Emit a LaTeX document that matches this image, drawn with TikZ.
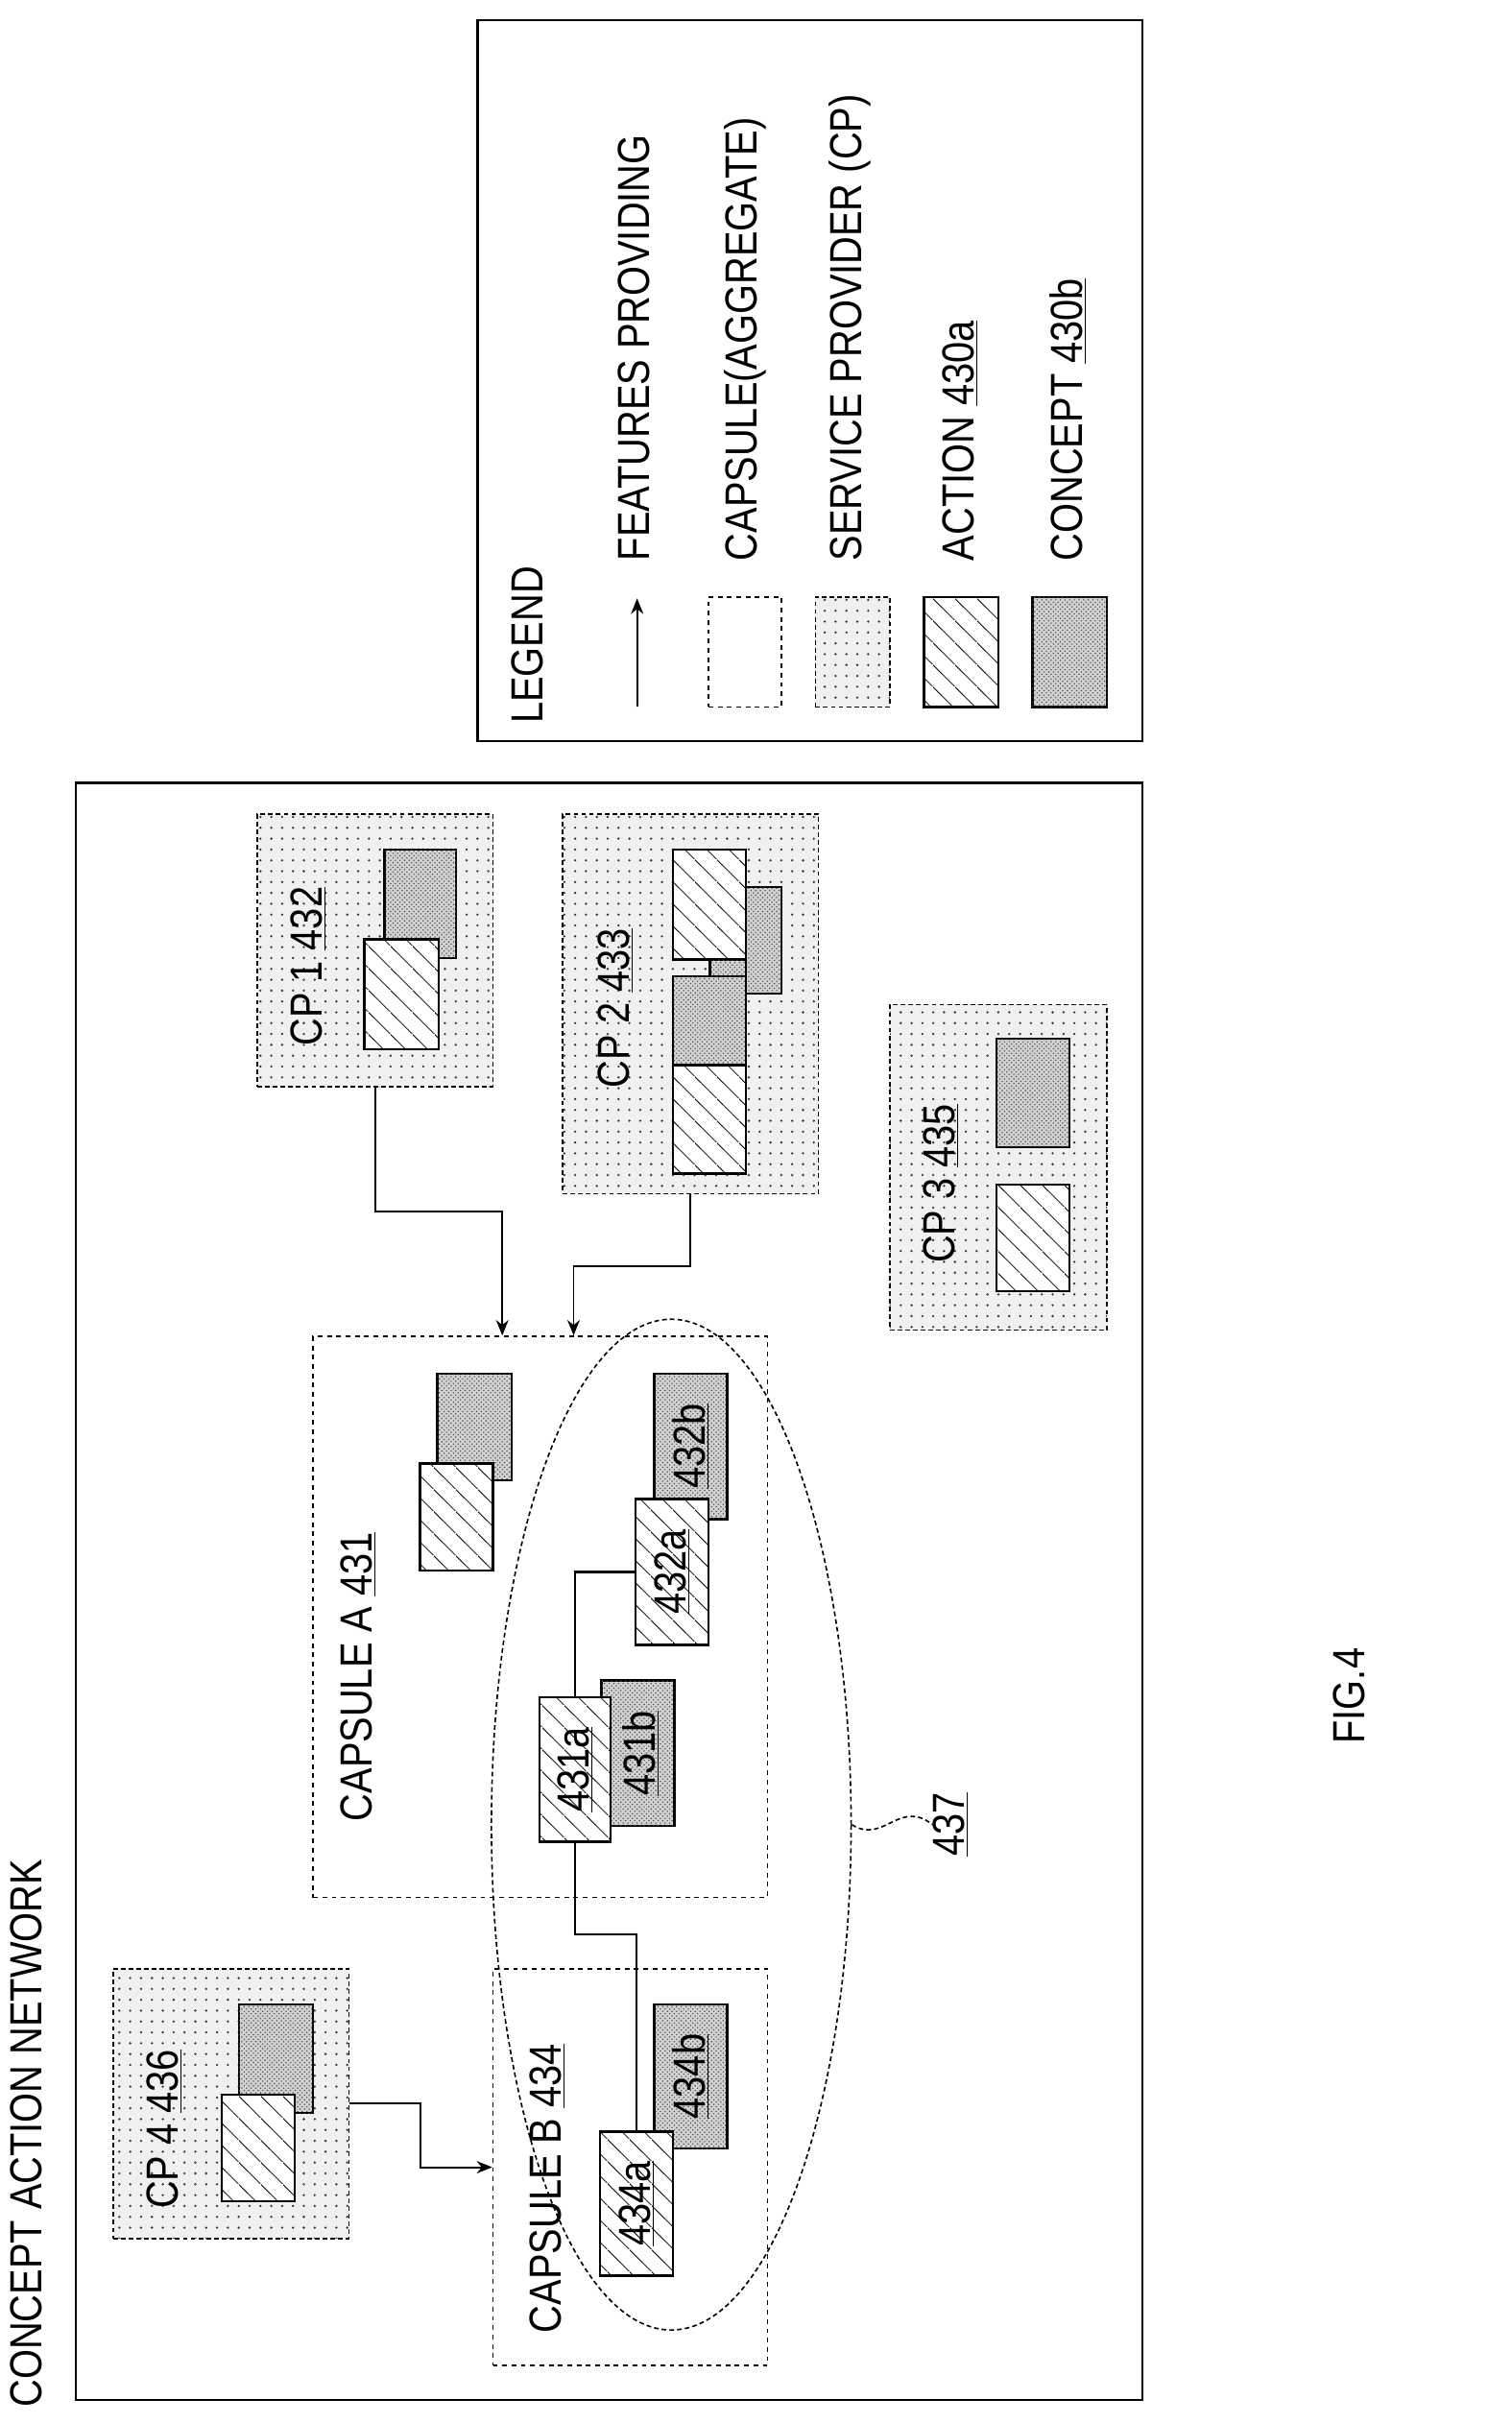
\documentclass[tikz,border=0pt]{standalone}
\usepackage{fontspec}
\setmainfont{Liberation Sans}[FakeStretch=0.85]
\usetikzlibrary{positioning,fit,arrows.meta,patterns,patterns.meta,shapes.geometric}

\tikzdeclarepattern{name=actionlines, type=uncolored,
  bounding box={(0pt,0pt) and (14pt,14pt)}, tile size={(14pt,14pt)},
  code={\draw[line width=0.5pt] (-1pt,15pt) -- (15pt,-1pt);}}
\tikzdeclarepattern{name=spdots, type=uncolored,
  bounding box={(-1pt,-1pt) and (1pt,1pt)}, tile size={(7pt,7pt)},
  code={\fill (0pt,0pt) circle (0.8pt);}}

\newcommand{\figfont}{\fontsize{29}{36}\selectfont}

\tikzset{
  sp/.style={draw, densely dashed, line width=1pt, fill=gray!12,
    postaction={pattern=spdots, pattern color=black!80}, inner sep=0pt},
  capsule/.style={draw, dashed, line width=1pt, fill=white, inner sep=0pt},
  action/.style={draw, line width=1.4pt, fill=white,
    postaction={pattern=actionlines}, inner sep=0pt},
  concept/.style={draw, line width=1.4pt, fill=gray!35,
    postaction={pattern=crosshatch dots, pattern color=black!70}, inner sep=0pt},
  lbl/.style={rotate=90, anchor=west, inner sep=0pt, font=\figfont},
  txt/.style={rotate=90, inner sep=0pt, font=\figfont},
  provide/.style={line width=1.2pt, -{Stealth[length=10pt,width=8pt]}},
  link/.style={line width=1.4pt}
}

\begin{document}
\begin{tikzpicture}[x=1pt,y=-1pt]
  \useasboundingbox (0,0) rectangle (975,1563);

  % frames
  \node[draw, line width=1.4pt, inner sep=0pt, fit={(49,505) (737,1548)}] (net) {};
  \node[lbl] (nettitle) at (17,1553) {CONCEPT ACTION NETWORK};
  \node[draw, line width=1.4pt, inner sep=0pt, fit={(308,13) (737,478)}] (legend) {};

  % legend
  \node[lbl] (legtitle) at (340,467) {LEGEND};
  \coordinate (legtail) at (411,456);
  \draw[provide] (legtail) -- ++(0,-70);
  \node[lbl] (legprov) at (409,362) {FEATURES PROVIDING};
  \node[capsule, fit={(457,385) (504,456)}] (legcap) {};
  \node[lbl] (legcaptxt) at (481,362) {CAPSULE(AGGREGATE)};
  \node[sp, fit={(526,385) (574,456)}] (legsp) {};
  \node[lbl] (legsptxt) at (548,362) {SERVICE PROVIDER (CP)};
  \node[action, fit={(596,385) (644,456)}] (legact) {};
  \node[lbl] (legacttxt) at (619,362) {ACTION \underline{430a}};
  \node[concept, fit={(666,385) (714,456)}] (legcon) {};
  \node[lbl] (legcontxt) at (689,362) {CONCEPT \underline{430b}};

  % service providers
  \node[sp, fit={(166,525) (318,701)}] (cp1) {};
  \node[concept, fit={(248,548) (294,618)}] (cp1con) {};
  \node[action, fit={(235,606) (283,677)}] (cp1act) {};
  \node[lbl] (cp1txt) at (199,675) {CP 1 \underline{432}};

  \node[sp, fit={(363,525) (528,770)}] (cp2) {};
  \node[concept, fit={(481,572) (504,641)}] (cp2con) {};
  \node[action, fit={(434,548) (481,619)}] (cp2act) {};
  \node[concept, fit={(458,619) (481,630)}] (cp2join) {};
  \node[concept, fit={(434,630) (481,687)}] (cp2conb) {};
  \node[action, fit={(434,687) (481,757)}] (cp2actb) {};
  \node[lbl] (cp2txt) at (397,702) {CP 2 \underline{433}};

  \node[sp, fit={(574,648) (714,858)}] (cp3) {};
  \node[concept, fit={(643,670) (690,740)}] (cp3con) {};
  \node[action, fit={(643,764) (690,833)}] (cp3act) {};
  \node[lbl] (cp3txt) at (607,815) {CP 3 \underline{435}};

  \node[sp, fit={(73,1270) (225,1444)}] (cp4) {};
  \node[concept, fit={(154,1293) (202,1363)}] (cp4con) {};
  \node[action, fit={(143,1351) (190,1420)}] (cp4act) {};
  \node[lbl] (cp4txt) at (106,1425) {CP 4 \underline{436}};

  % capsules
  \node[capsule, fit={(202,862) (495,1224)}] (capA) {};
  \node[lbl] (capAtxt) at (231,1175) {CAPSULE A \underline{431}};
  \node[concept, fit={(282,886) (330,955)}] (capAcon) {};
  \node[action, fit={(271,944) (318,1013)}] (capAact) {};
  \node[concept, fit={(422,886) (469,980)}] (c432) {};
  \node[action, fit={(410,967) (457,1061)}] (a432) {};
  \node[concept, fit={(388,1084) (435,1178)}] (c431) {};
  \node[action, fit={(348,1095) (394,1188)}] (a431) {};
  \node[txt] (t432b) at (c432) {\underline{432b}};
  \node[txt] (t432a) at (a432) {\underline{432a}};
  \node[txt] (t431b) at ([xshift=2pt]c431.center) {\underline{431b}};
  \node[txt] (t431a) at (a431) {\underline{431a}};

  \node[capsule, fit={(318,1270) (495,1526)}] (capB) {};
  \node[lbl] (capBtxt) at (353,1505) {CAPSULE B \underline{434}};
  \node[concept, fit={(422,1293) (469,1386)}] (c434) {};
  \node[action, fit={(387,1375) (434,1468)}] (a434) {};
  \node[txt] (t434b) at (c434) {\underline{434b}};
  \node[txt] (t434a) at (a434) {\underline{434a}};

  % features providing
  \draw[provide] (cp1.south) -- ++(0,80) -| ([xshift=-24.5pt]capA.north);
  \draw[provide] (cp2.south) -- ++(0,46) -| ([xshift=21.5pt]capA.north);
  \draw[provide] (cp4.east) -- ++(46,0) |- (capB.west);

  % links between actions
  \draw[link] (a432.west) -| (a431.north);
  \draw[link] (a431.south) -- ++(0,59) -| (a434.north);

  % group 437
  \node[draw, densely dashed, line width=1pt, ellipse, inner sep=0pt,
        minimum width=232pt, minimum height=652pt] (grp) at (433,1177) {};
  \node[txt] (t437) at (613,1177) {\underline{437}};
  \draw[densely dashed, line width=1pt] (grp.east)
    .. controls (570,1190) and (580,1160) .. (t437.north);

  \node[lbl] (figtxt) at (870,1125) {FIG.4};
\end{tikzpicture}
\end{document}
